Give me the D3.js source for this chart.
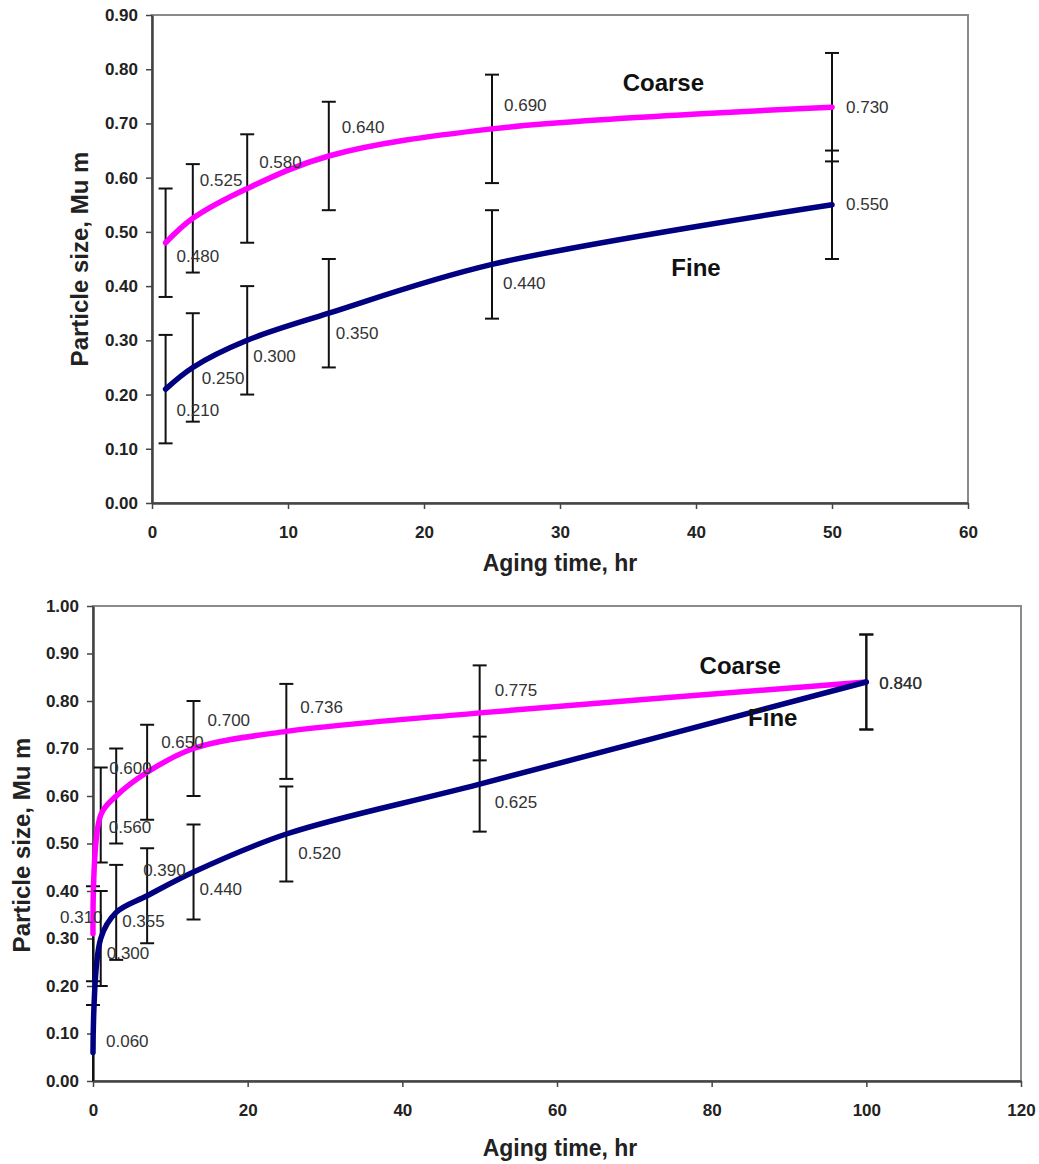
<!DOCTYPE html>
<html>
<head>
<meta charset="utf-8">
<script src="https://cdn.jsdelivr.net/npm/d3@7"></script>
<style>
  body { margin: 0; background: #fff; }
  .tick text { font-family: "Liberation Sans", Arial, sans-serif; font-weight: bold; font-size: 17px; fill: #222; }
</style>
</head>
<body>
<div id="chart"></div>
<script>
// chart values
const topHours = [1, 3, 7, 13, 25, 50];
const topCoarse = [0.480, 0.525, 0.580, 0.640, 0.690, 0.730];
const topFine = [0.210, 0.250, 0.300, 0.350, 0.440, 0.550];

const bottomHours = [0, 1, 3, 7, 13, 25, 50, 100];
const bottomCoarse = [0.310, 0.560, 0.600, 0.650, 0.700, 0.736, 0.775, 0.840];
const bottomFine = [0.060, 0.300, 0.355, 0.390, 0.440, 0.520, 0.625, 0.840];

const errorSize = 0.1;

const topXTicks = [0, 10, 20, 30, 40, 50, 60];
const topYTicks = [0, 0.1, 0.2, 0.3, 0.4, 0.5, 0.6, 0.7, 0.8, 0.9];
const bottomXTicks = [0, 20, 40, 60, 80, 100, 120];
const bottomYTicks = [0, 0.1, 0.2, 0.3, 0.4, 0.5, 0.6, 0.7, 0.8, 0.9, 1.0];

const seriesNames = ["Coarse", "Fine"];
const xTitle = "Aging time, hr";
const yTitle = "Particle size, Mu m";

// where Excel left the data labels (pixel nudges from each point)
const topCoarseNudge = [[11, 13], [7, -38], [12, -26], [13, -29], [12, -24], [14, 0]];
const topFineNudge = [[11, 21], [9, 11], [6, 16], [7, 20], [11, 19], [14, -1]];
const bottomCoarseNudge = [[-33, -17], [8, 12], [-7, -28], [14, -30], [14, -28], [14, -24], [15, -23], [13, 1]];
const bottomFineNudge = [[13, -11], [6, 15], [6, 9], [-4, -26], [6, 17], [12, 19], [15, 18], [13, 1]];

const coarseColor = "#ff00ff";
const fineColor = "#000080";
const font = '"Liberation Sans", Arial, sans-serif';

const svg = d3.select("#chart").append("svg")
    .attr("width", 1039)
    .attr("height", 1164);

function drawPanel(cfg) {
    const g = svg.append("g");

    const x = d3.scaleLinear().domain(cfg.xDomain).range([cfg.left, cfg.right]);
    const y = d3.scaleLinear().domain(cfg.yDomain).range([cfg.bottom, cfg.top]);

    // plot area frame
    g.append("rect")
        .attr("x", cfg.left).attr("y", cfg.top)
        .attr("width", cfg.right - cfg.left)
        .attr("height", cfg.bottom - cfg.top)
        .attr("fill", "none")
        .attr("stroke", "#8a8a8a")
        .attr("stroke-width", 2);

    // axes
    const xAxis = g.append("g")
        .attr("transform", `translate(0,${cfg.bottom})`)
        .call(d3.axisBottom(x).tickValues(cfg.xTicks).tickFormat(d3.format("d")).tickSize(6).tickSizeOuter(0).tickPadding(17));
    const yAxis = g.append("g")
        .attr("transform", `translate(${cfg.left},0)`)
        .call(d3.axisLeft(y).tickValues(cfg.yTicks).tickFormat(d3.format(".2f")).tickSize(6).tickSizeOuter(0).tickPadding(8));
    [xAxis, yAxis].forEach(a => {
        a.select(".domain").attr("stroke", "#444").attr("stroke-width", 2.5);
        a.selectAll(".tick line").attr("stroke", "#444").attr("stroke-width", 1.5);
    });

    // axis titles
    g.append("text")
        .attr("x", cfg.xTitleX).attr("y", cfg.xTitleY)
        .attr("text-anchor", "middle")
        .attr("font-family", font).attr("font-weight", "bold").attr("font-size", 23)
        .attr("fill", "#222")
        .text(xTitle);
    g.append("text")
        .attr("transform", `translate(${cfg.yTitleX},${cfg.yTitleY}) rotate(-90)`)
        .attr("text-anchor", "middle")
        .attr("dy", "0.35em")
        .attr("font-family", font).attr("font-weight", "bold").attr("font-size", 24)
        .attr("fill", "#222")
        .text(yTitle);

    const line = d3.line()
        .x(d => x(d.hr))
        .y(d => y(d.v))
        .curve(d3.curveCatmullRom.alpha(0.5));

    cfg.series.forEach(s => {
        const pts = cfg.hours.map((h, i) => ({ hr: h, v: s.values[i] }));

        // error bars (+/- errorSize), clipped at the axis
        const bars = g.append("g");
        pts.forEach(p => {
            const yHi = y(p.v + errorSize);
            const yLo = y(Math.max(cfg.yDomain[0], p.v - errorSize));
            const xp = x(p.hr);
            bars.append("line")
                .attr("x1", xp).attr("x2", xp).attr("y1", yHi).attr("y2", yLo)
                .attr("stroke", "#111").attr("stroke-width", 2);
            bars.append("line")
                .attr("x1", xp - 7).attr("x2", xp + 7).attr("y1", yHi).attr("y2", yHi)
                .attr("stroke", "#111").attr("stroke-width", 2);
            if (p.v - errorSize >= cfg.yDomain[0]) {
                bars.append("line")
                    .attr("x1", xp - 7).attr("x2", xp + 7).attr("y1", yLo).attr("y2", yLo)
                    .attr("stroke", "#111").attr("stroke-width", 2);
            }
        });

        g.append("path")
            .datum(pts)
            .attr("fill", "none")
            .attr("stroke", s.color)
            .attr("stroke-width", 5.5)
            .attr("stroke-linecap", "round")
            .attr("d", line);

        // data labels
        g.append("g").selectAll("text")
            .data(pts)
            .join("text")
            .attr("x", (d, i) => x(d.hr) + s.nudge[i][0])
            .attr("y", (d, i) => y(d.v) + s.nudge[i][1])
            .attr("dy", "0.35em")
            .attr("font-family", font).attr("font-size", 17)
            .attr("fill", "#333")
            .text(d => d3.format(".3f")(d.v));

        // series name
        g.append("text")
            .attr("x", x(s.nameAt[0])).attr("y", y(s.nameAt[1]))
            .attr("text-anchor", "middle")
            .attr("dy", "0.35em")
            .attr("font-family", font).attr("font-weight", "bold").attr("font-size", 24)
            .attr("fill", "#111")
            .text(s.name);
    });
}

// top panel
drawPanel({
    left: 152, right: 968, top: 15, bottom: 503,
    xDomain: [0, 60], yDomain: [0, 0.9],
    xTicks: topXTicks, yTicks: topYTicks,
    xTitleX: 560, xTitleY: 571, yTitleX: 80, yTitleY: 259,
    hours: topHours,
    series: [
        { name: seriesNames[0], values: topCoarse, color: coarseColor, nudge: topCoarseNudge, nameAt: [37.6, 0.776] },
        { name: seriesNames[1], values: topFine, color: fineColor, nudge: topFineNudge, nameAt: [40, 0.435] }
    ]
});

// bottom panel
drawPanel({
    left: 93, right: 1021, top: 606, bottom: 1081,
    xDomain: [0, 120], yDomain: [0, 1.0],
    xTicks: bottomXTicks, yTicks: bottomYTicks,
    xTitleX: 560, xTitleY: 1156, yTitleX: 22, yTitleY: 845,
    hours: bottomHours,
    series: [
        { name: seriesNames[0], values: bottomCoarse, color: coarseColor, nudge: bottomCoarseNudge, nameAt: [83.7, 0.874] },
        { name: seriesNames[1], values: bottomFine, color: fineColor, nudge: bottomFineNudge, nameAt: [87.9, 0.766] }
    ]
});
</script>
</body>
</html>
